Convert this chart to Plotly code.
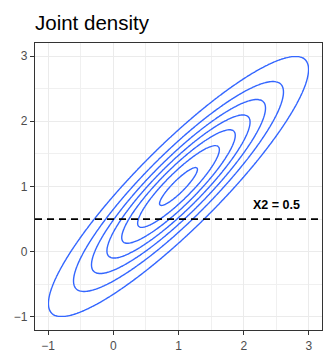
import numpy as np
import plotly.graph_objects as go

# Bivariate normal parameters
mean_x1 = 1.0
mean_x2 = 1.0
sd_x1 = 1.0
sd_x2 = 1.0
rho = 0.9
grid_lo = -1.0
grid_hi = 3.0
grid_n = 200
contour_levels = [0.05, 0.10, 0.15, 0.20, 0.25, 0.30, 0.35]
hline_y = 0.5
label_text = "X2 = 0.5"
label_x = 2.5
label_y = 0.72
tick_vals = [-1, 0, 1, 2, 3]

x1 = np.linspace(grid_lo, grid_hi, grid_n)
x2 = np.linspace(grid_lo, grid_hi, grid_n)
X1, X2 = np.meshgrid(x1, x2)
z1 = (X1 - mean_x1) / sd_x1
z2 = (X2 - mean_x2) / sd_x2
q = (z1**2 - 2 * rho * z1 * z2 + z2**2) / (1 - rho**2)
dens = np.exp(-q / 2) / (2 * np.pi * sd_x1 * sd_x2 * np.sqrt(1 - rho**2))

fig = go.Figure()
fig.add_trace(go.Contour(
    x=x1, y=x2, z=dens,
    contours=dict(coloring="lines", start=contour_levels[0], end=contour_levels[-1],
                  size=contour_levels[1] - contour_levels[0], showlabels=False),
    line=dict(color="#3366FF", width=1.4),
    colorscale=[[0, "#3366FF"], [1, "#3366FF"]],
    showscale=False, hoverinfo="skip",
))
fig.add_shape(type="line", xref="paper", x0=0, x1=1, yref="y", y0=hline_y, y1=hline_y,
              line=dict(color="black", width=1.7, dash="7px,5px"))
fig.add_annotation(x=label_x, y=label_y, text="<b>" + label_text + "</b>", showarrow=False,
                   font=dict(family="Liberation Sans, Arial, sans-serif", size=12.5, color="black"))

axis_common = dict(
    range=[-1.2, 3.2], tickmode="array", tickvals=tick_vals,
    showgrid=True, gridcolor="#EBEBEB", gridwidth=1.3,
    minor=dict(dtick=0.5, tick0=0.5, showgrid=True, gridcolor="#F0F0F0", gridwidth=1.0, ticks=""),
    zeroline=False, showline=True, mirror=True, linecolor="#333333", linewidth=1.2,
    ticks="outside", ticklen=4, tickwidth=1.2, tickcolor="#333333",
    tickfont=dict(family="Liberation Sans, Arial, sans-serif", size=12, color="#4D4D4D"),
    automargin=False,
)
fig.update_xaxes(**axis_common)
fig.update_yaxes(**axis_common)
fig.update_layout(
    width=326, height=356,
    margin=dict(l=35, r=4, t=43, b=26, autoexpand=False),
    paper_bgcolor="white", plot_bgcolor="white",
    title=dict(text="Joint density", x=35 / 326, xanchor="left", xref="container",
               y=1 - 23 / 356, yanchor="middle", automargin=False,
               font=dict(family="Liberation Sans, Arial, sans-serif", size=20.5, color="black")),
    showlegend=False,
)
fig.write_html("out.html", config={"displayModeBar": False},
               post_script="document.body.style.margin='0';document.body.style.overflow='hidden';")
